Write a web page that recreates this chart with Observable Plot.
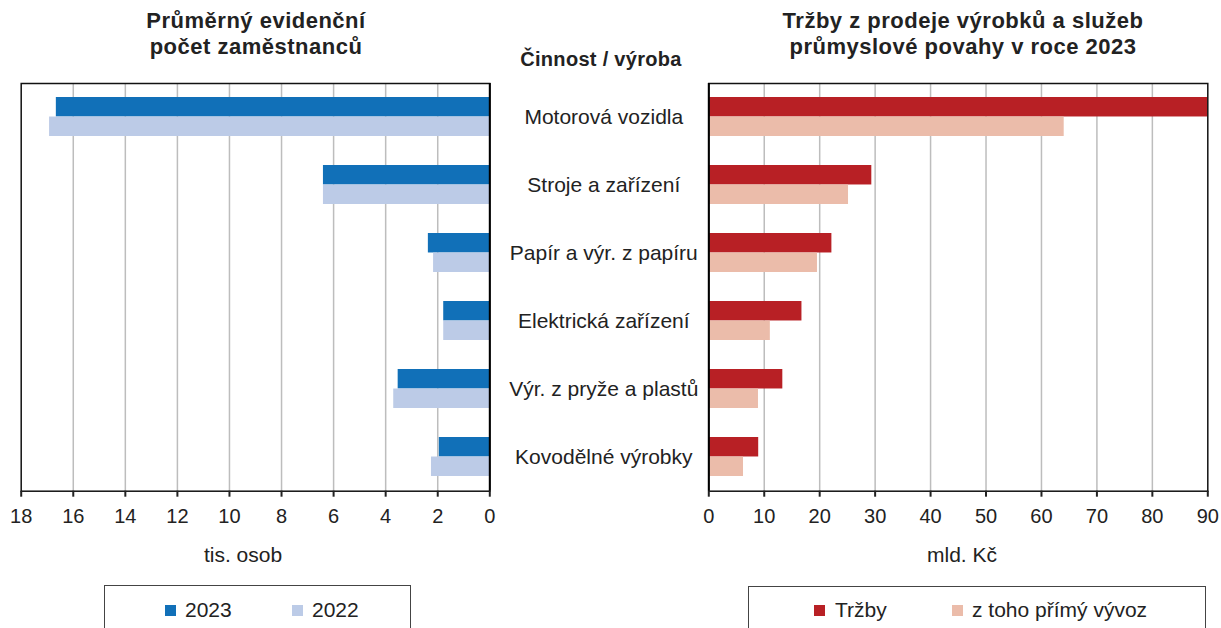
<!DOCTYPE html>
<html>
<head>
<meta charset="utf-8">
<script src="https://cdn.jsdelivr.net/npm/d3@7"></script>
<script src="https://cdn.jsdelivr.net/npm/@observablehq/plot@0.6"></script>
<style>
  html, body { margin: 0; padding: 0; background: #fff; }
  body { width: 1221px; height: 628px; position: relative; overflow: hidden; font-family: "Liberation Sans", Arial, Helvetica, sans-serif; color: #222; }
  .abs { position: absolute; white-space: nowrap; }
  .title { font-weight: bold; font-size: 22px; line-height: 26px; text-align: center; letter-spacing: 0.5px; }
  .lbl { font-size: 21px; line-height: 24px; text-align: center; }
  .legend { position: absolute; border: 1px solid #444; background: #fff; }
  .sw { position: absolute; width: 11px; height: 11px; }
  .lt { position: absolute; font-size: 21px; line-height: 24px; white-space: nowrap; }
</style>
</head>
<body>
<div id="left" class="abs" style="left:0;top:0"></div>
<div id="right" class="abs" style="left:690px;top:0"></div>

<div class="abs title" style="left:56px;width:400px;top:8px">Průměrný evidenční<br>počet zaměstnanců</div>
<div class="abs title" style="left:713px;width:500px;top:8px">Tržby z prodeje výrobků a služeb<br>průmyslové povahy v roce 2023</div>
<div class="abs title" style="left:501px;width:200px;top:46px;font-size:20px;letter-spacing:0.3px">Činnost / výroba</div>

<div class="abs lbl" style="left:143px;width:200px;top:543px">tis. osob</div>
<div class="abs lbl" style="left:862px;width:200px;top:543px">mld. Kč</div>

<div class="legend" style="left:104px;top:585px;width:305px;height:60px">
  <div class="sw" style="left:60px;top:19px;background:#1170b8"></div>
  <div class="lt" style="left:80px;top:12px">2023</div>
  <div class="sw" style="left:187px;top:19px;background:#bccbe7"></div>
  <div class="lt" style="left:207px;top:12px">2022</div>
</div>
<div class="legend" style="left:748px;top:586px;width:456px;height:60px">
  <div class="sw" style="left:65px;top:18px;background:#b82025"></div>
  <div class="lt" style="left:86px;top:11px">Tržby</div>
  <div class="sw" style="left:203px;top:18px;background:#ebbcaa"></div>
  <div class="lt" style="left:223px;top:11px">z toho přímý vývoz</div>
</div>

<script>
// ---- data ----
const categories = ["Motorová vozidla", "Stroje a zařízení", "Papír a výr. z papíru", "Elektrická zařízení", "Výr. z pryže a plastů", "Kovodělné výrobky"];
const emp2023 = [16.65, 6.39, 2.36, 1.77, 3.52, 1.94];
const emp2022 = [16.91, 6.39, 2.16, 1.77, 3.69, 2.24];
const trzby = [90, 29.4, 22.2, 16.8, 13.35, 9.0];
const vyvoz = [64.1, 25.2, 19.6, 11.1, 8.96, 6.26];
const leftTicks = [18, 16, 14, 12, 10, 8, 6, 4, 2, 0];
const rightTicks = [0, 10, 20, 30, 40, 50, 60, 70, 80, 90];

const rows = categories.map((c, i) => ({c, e23: emp2023[i], e22: emp2022[i], t: trzby[i], v: vyvoz[i]}));

const colors = {e23: "#1170b8", e22: "#bccbe7", t: "#b82025", v: "#ebbcaa"};
const font = '"Liberation Sans", Arial, Helvetica, sans-serif';

const marginTop = 83, marginBottom = 54.3, H = 545;
const plotH = H - marginTop - marginBottom;
const pInner = 0.428, pOuter = 0.2;
const step = plotH / (categories.length - pInner + 2 * pOuter);
const half = step * (1 - pInner) / 2;

const yScale = {domain: categories, paddingInner: pInner, paddingOuter: pOuter, align: 0.5};

// ---- left chart ----
const left = Plot.plot({
  width: 690, height: H,
  marginLeft: 20.7, marginRight: 200.7, marginTop, marginBottom,
  style: {fontFamily: font, fontSize: "20px", color: "#222", background: "transparent", overflow: "visible"},
  x: {domain: [0, 18], reverse: true},
  y: yScale,
  marks: [
    Plot.gridX(leftTicks.filter(d => d !== 0 && d !== 18), {stroke: "#bdbdbd", strokeOpacity: 1, strokeWidth: 1.5}),
    Plot.barX(rows, {y: "c", x: "e23", fill: colors.e23, insetBottom: half}),
    Plot.barX(rows, {y: "c", x: "e22", fill: colors.e22, insetTop: half}),
    Plot.frame({stroke: "#111", strokeWidth: 1.5}),
    Plot.ruleX([0], {stroke: "#000", strokeWidth: 2}),
    Plot.axisX({ticks: leftTicks, tickSize: 6, tickPadding: 12, fontSize: 20, strokeWidth: 2, label: null, fill: "#222"}),
    Plot.axisY({anchor: "right", tickSize: 0, tickPadding: 0, textAnchor: "middle", dx: 114, fontSize: 21, label: null, fill: "#222"})
  ]
});
document.getElementById("left").appendChild(left);

// ---- right chart ----
const right = Plot.plot({
  width: 531, height: H,
  marginLeft: 18.3, marginRight: 13.7, marginTop, marginBottom,
  style: {fontFamily: font, fontSize: "20px", color: "#222", background: "transparent", overflow: "visible"},
  x: {domain: [0, 90]},
  y: yScale,
  marks: [
    Plot.gridX(rightTicks.filter(d => d !== 0 && d !== 90), {stroke: "#bdbdbd", strokeOpacity: 1, strokeWidth: 1.5}),
    Plot.barX(rows, {y: "c", x: "t", fill: colors.t, insetBottom: half}),
    Plot.barX(rows, {y: "c", x: "v", fill: colors.v, insetTop: half}),
    Plot.frame({stroke: "#111", strokeWidth: 1.5}),
    Plot.ruleX([0], {stroke: "#000", strokeWidth: 2}),
    Plot.axisX({ticks: rightTicks, tickSize: 6, tickPadding: 12, fontSize: 20, strokeWidth: 2, label: null, fill: "#222"}),
    Plot.axisY({ticks: [], label: null})
  ]
});
document.getElementById("right").appendChild(right);
</script>
</body>
</html>
